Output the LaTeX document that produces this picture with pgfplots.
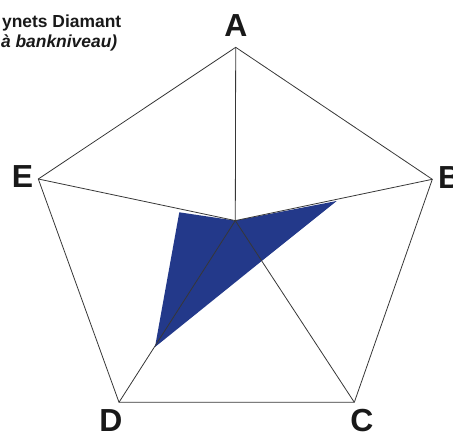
\documentclass[border=0pt]{standalone}
\usepackage{fontspec}
\setmainfont{Liberation Sans}
\usepackage{pgfplots}
\pgfplotsset{compat=1.18}
\definecolor{gem}{RGB}{35,57,138}
\definecolor{web}{RGB}{55,55,55}

% chart laid out in picture units (x right, y down), 453 x 432
\begin{document}
\begin{tikzpicture}
\begin{axis}[
  at={(0,0)}, anchor=south west,
  width=453bp, height=432bp, scale only axis,
  xmin=0, xmax=453, ymin=0, ymax=432, y dir=reverse,
  axis lines=none, clip=false,
]
% value polygon: A, B, C, D, E
\addplot[fill=gem, draw=none] coordinates {
  (235.3,220.6) (336.7,201.0) (261.7,261.0) (155.0,347.0) (179.3,212.3)
} -- cycle;

% outer pentagon
\addplot[web, line width=0.8bp] coordinates {
  (235.7,47.3) (432.3,179.3) (354.3,402.3) (119.0,402.3) (38.3,179.0) (235.7,47.3)
};
% spokes
\addplot[web, line width=0.8bp] coordinates {(235.3,220.6) (235.7,47.3)};
\addplot[web, line width=0.8bp] coordinates {(235.3,220.6) (432.3,179.3)};
\addplot[web, line width=0.8bp] coordinates {(235.3,220.6) (354.3,402.3)};
\addplot[web, line width=0.8bp] coordinates {(235.3,220.6) (119.0,402.3)};
\addplot[web, line width=0.8bp] coordinates {(235.3,220.6) (38.3,179.0)};

% axis names
\begin{scope}[every node/.style={inner sep=0pt, font=\fontsize{32}{36}\selectfont\bfseries, text=black!90}]
  \node[anchor=base] at (axis cs:236,36.5) {A};
  \node[anchor=base west] at (axis cs:438,188) {B};
  \node[anchor=base] at (axis cs:362,431) {C};
  \node[anchor=base] at (axis cs:111,431) {D};
  \node[anchor=base] at (axis cs:22.5,187.5) {E};
\end{scope}

% title, cut by the page edge
\node[anchor=base east, inner sep=0pt, font=\fontsize{17.5}{20}\selectfont\bfseries, text=black!90]
  at (axis cs:121.5,27.5) {ynets Diamant};
\node[anchor=base east, inner sep=0pt, font=\fontsize{17.5}{20}\selectfont\bfseries\itshape, text=black!90]
  at (axis cs:117.5,47.8) {à bankniveau)};
\end{axis}
\pgfresetboundingbox
\useasboundingbox (0,0) rectangle (453bp,432bp);
\end{tikzpicture}
\end{document}
